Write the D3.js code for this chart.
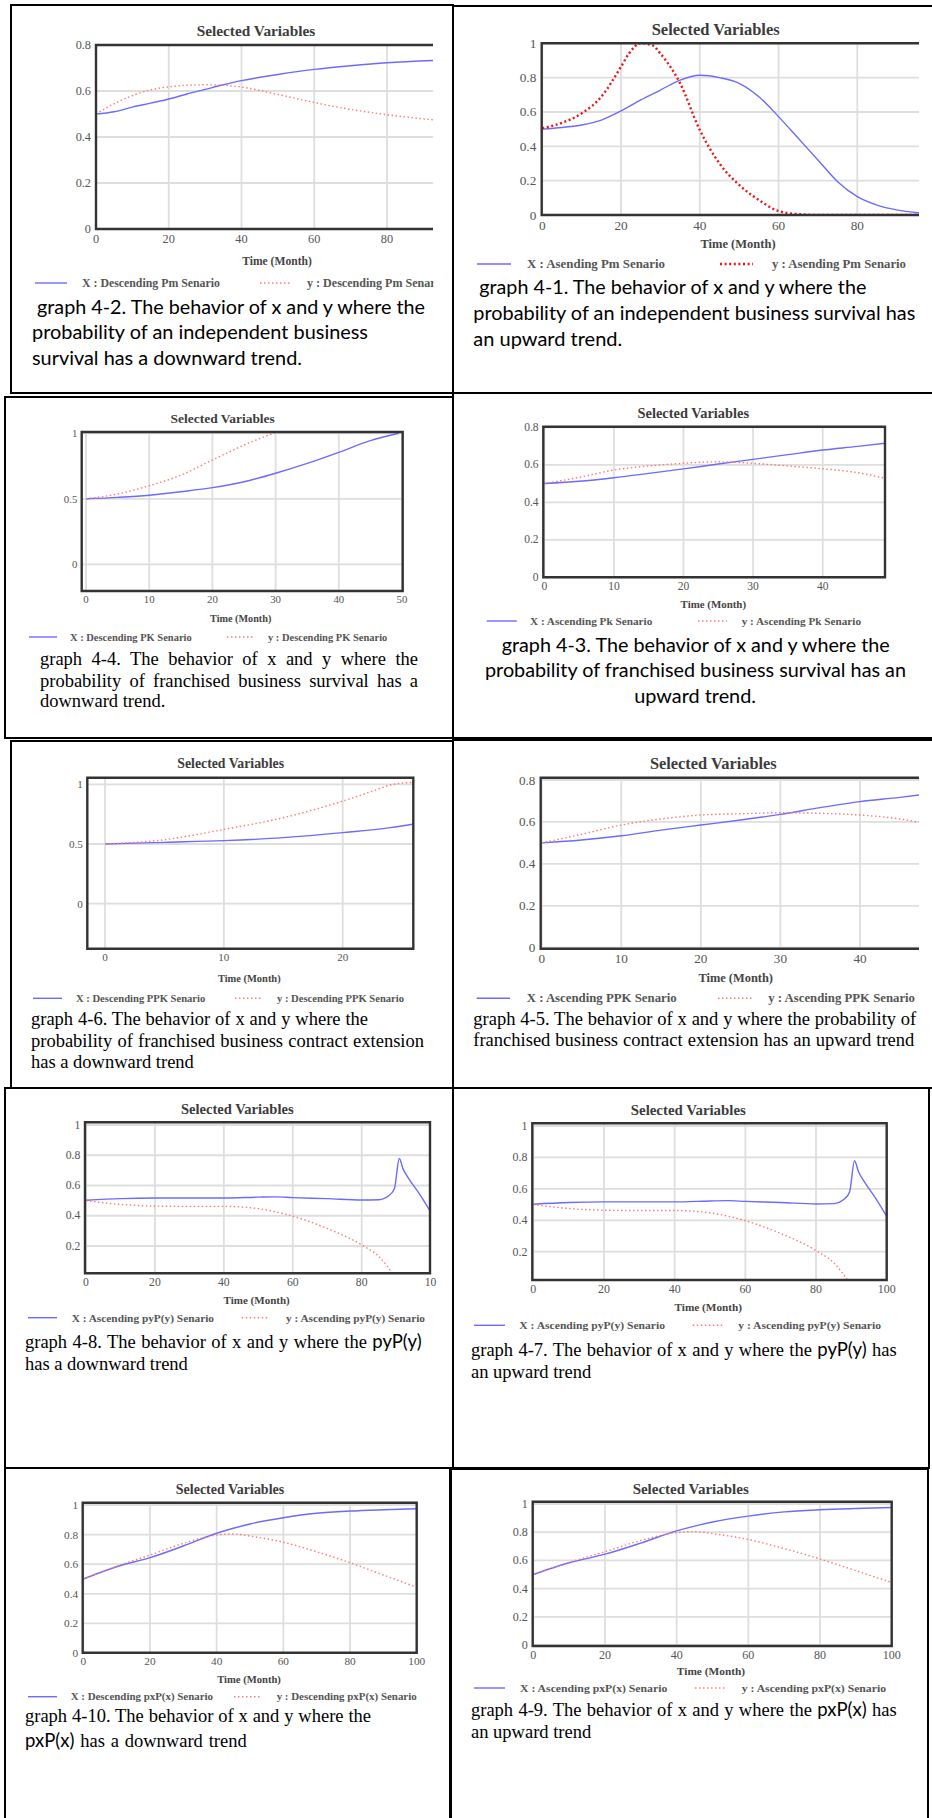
<!DOCTYPE html>
<html>
<head>
<meta charset="utf-8">
<script src="https://cdn.jsdelivr.net/npm/d3@7"></script>
<style>
  body { margin: 0; background: #fff; }
  svg { display: block; }
</style>
</head>
<body>
<svg id="page" width="932" height="1818"></svg>
<script>
// ---- values (Month -> probability) ----
// graph 4-2: descending Pm
const pmDescMonths = [0, 5, 10, 15, 20, 25, 30, 35, 40, 50, 60, 70, 80, 93];
const pmDescX = [0.50, 0.51, 0.53, 0.547, 0.565, 0.587, 0.607, 0.627, 0.645, 0.672, 0.694, 0.71, 0.723, 0.733];
const pmDescY = [0.50, 0.545, 0.58, 0.605, 0.618, 0.625, 0.627, 0.625, 0.617, 0.585, 0.55, 0.52, 0.497, 0.474];

// graph 4-1: ascending Pm
const pmAscMonthsX = [0, 5, 10, 15, 20, 25, 30, 35, 40, 45, 50, 55, 60, 65, 70, 75, 80, 85, 90, 96];
const pmAscX = [0.50, 0.51, 0.524, 0.553, 0.606, 0.67, 0.728, 0.786, 0.814, 0.80, 0.767, 0.689, 0.573, 0.447, 0.32, 0.194, 0.107, 0.058, 0.03, 0.012];
const pmAscMonthsY = [0, 5, 10, 15, 20, 22, 25, 28, 30, 35, 40, 45, 50, 55, 60, 65, 70, 96];
const pmAscY = [0.505, 0.537, 0.592, 0.689, 0.864, 0.94, 1.0, 0.988, 0.94, 0.767, 0.495, 0.30, 0.175, 0.087, 0.023, 0.005, 0, 0];

// graph 4-4: descending PK
const pkDescMonthsX = [0, 5, 10, 15, 20, 25, 30, 35, 40, 45, 49.5];
const pkDescX = [0.50, 0.511, 0.527, 0.554, 0.585, 0.63, 0.695, 0.77, 0.855, 0.944, 1.0];
const pkDescMonthsY = [0, 5, 10, 15, 20, 25, 30];
const pkDescY = [0.50, 0.537, 0.60, 0.68, 0.796, 0.91, 1.007];

// graph 4-3: ascending Pk
const pkAscMonths = [0, 5, 10, 15, 20, 25, 30, 35, 40, 45, 49];
const pkAscX = [0.50, 0.512, 0.531, 0.554, 0.578, 0.604, 0.629, 0.654, 0.679, 0.698, 0.715];
const pkAscY = [0.50, 0.533, 0.572, 0.594, 0.608, 0.616, 0.608, 0.594, 0.579, 0.558, 0.528];

// graph 4-6: descending PPK
const ppkDescMonthsX = [0, 5, 10, 15, 20, 24, 26];
const ppkDescX = [0.50, 0.514, 0.528, 0.553, 0.595, 0.637, 0.668];
const ppkDescMonthsY = [0, 5, 10, 15, 20, 23, 24, 26];
const ppkDescY = [0.50, 0.536, 0.622, 0.72, 0.859, 0.96, 0.994, 1.017];

// graph 4-5: ascending PPK
const ppkAscMonths = [0, 5, 10, 15, 20, 25, 30, 35, 40, 45, 47.5];
const ppkAscX = [0.50, 0.514, 0.534, 0.561, 0.585, 0.609, 0.636, 0.668, 0.697, 0.717, 0.729];
const ppkAscY = [0.50, 0.541, 0.585, 0.614, 0.633, 0.639, 0.644, 0.641, 0.633, 0.614, 0.598];

// graphs 4-8 and 4-7: pyP(y)
const pyMonthsX = [0, 10, 20, 30, 40, 50, 55, 60, 70, 80, 85, 88, 89.5, 90.9, 92, 93.7, 96.7, 100];
const pyX = [0.502, 0.513, 0.517, 0.517, 0.517, 0.523, 0.525, 0.52, 0.513, 0.504, 0.506, 0.535, 0.58, 0.779, 0.71, 0.644, 0.546, 0.425];
const pyMonthsY = [0, 10, 20, 30, 40, 50, 60, 70, 80, 85, 89.5];
const pyY = [0.50, 0.475, 0.464, 0.462, 0.462, 0.447, 0.397, 0.316, 0.207, 0.13, 0.0];

// graphs 4-10 and 4-9: pxP(x)
const pxMonths = [0, 10, 20, 30, 40, 45, 50, 60, 70, 80, 90, 100];
const pxX = [0.50, 0.583, 0.644, 0.723, 0.809, 0.843, 0.872, 0.914, 0.944, 0.959, 0.968, 0.975];
const pxY = [0.50, 0.586, 0.662, 0.741, 0.797, 0.804, 0.79, 0.748, 0.684, 0.61, 0.527, 0.444];

// ---- tick values and labels ----
const xTicks20 = [0, 20, 40, 60, 80];
const xTicks20to100 = [0, 20, 40, 60, 80, 100];
const xLabels20to100 = ['0', '20', '40', '60', '80', '100'];
const xLabels20cut = ['0', '20', '40', '60', '80', '10'];
const xTicks10to50 = [0, 10, 20, 30, 40, 50];
const xTicks10to40 = [0, 10, 20, 30, 40];
const xTicks10to20 = [0, 10, 20];
const yTicks08 = [0, 0.2, 0.4, 0.6, 0.8];
const yTicks1 = [0, 0.2, 0.4, 0.6, 0.8, 1];
const yTicks1no0 = [0.2, 0.4, 0.6, 0.8, 1];
const yTicksHalf = [0, 0.5, 1];

const chartTitle = 'Selected Variables';
const timeLabel = 'Time (Month)';

const BLUE = '#6b6bff';
const PINK = '#ff7b7b';
const RED = '#ee1414';
const SERIF = "'Liberation Serif', 'Times New Roman', serif";
const CALIBRI = "Lato, 'Open Sans', sans-serif";

const zip = (m, v) => m.map((d, i) => [d, v[i]]);

// page cells (table borders around each graph)
const cells = [
  [11, 5, 442, 388], [453, 6, 490, 387],
  [5, 397, 448, 341], [453, 393, 490, 345],
  [11, 741, 442, 347], [453, 740, 490, 348],
  [5, 1088, 448, 380], [453, 1088, 476, 380],
  [5, 1468, 445, 360], [451, 1469, 477, 360]
];

const panels = [
  {
    s: 1.0, xCal: [0, 80], xPx: [96, 387], yCal: [0, 0.8], yPx: [229, 45],
    frame: { l: 96, r: 433, t: 45, b: 229 }, openRight: true, clipRight: 433.5,
    xTicks: xTicks20, yTicks: yTicks08,
    title: [256, 30], xTitle: [277, 261],
    legend: { y: 283, b: [35, 67, 82, 138], r: [260, 292, 307, 138] },
    names: ['X : Descending Pm Senario', 'y : Descending Pm Senario'],
    X: zip(pmDescMonths, pmDescX), Y: zip(pmDescMonths, pmDescY)
  },
  {
    s: 1.08, xCal: [0, 80], xPx: [542.3, 857.3], yCal: [0, 1], yPx: [215, 43.3],
    frame: { l: 541.7, r: 919, t: 43.3, b: 215 }, openRight: true, clipRight: 919.5,
    xTicks: xTicks20, yTicks: yTicks1, strongRed: true,
    title: [715.7, 29], xTitle: [738, 244],
    legend: { y: 264, b: [477, 511, 527, 138], r: [720, 753, 772, 134] },
    names: ['X : Asending Pm Senario', 'y : Asending Pm Senario'],
    X: zip(pmAscMonthsX, pmAscX), Y: zip(pmAscMonthsY, pmAscY)
  },
  {
    s: 0.88, xCal: [0, 50], xPx: [86, 402], yCal: [0, 1], yPx: [564.3, 433.3],
    frame: { l: 81.7, r: 402.7, t: 432, b: 591 },
    xTicks: xTicks10to50, yTicks: yTicksHalf,
    title: [222.7, 418], xTitle: [240.7, 618.7],
    legend: { y: 637, b: [29, 57, 70, 121.7], r: [227, 254, 268, 119.3] },
    names: ['X : Descending PK Senario', 'y : Descending PK Senario'],
    X: zip(pkDescMonthsX, pkDescX), Y: zip(pkDescMonthsY, pkDescY)
  },
  {
    s: 0.94, xCal: [0, 40], xPx: [544.3, 822.7], yCal: [0, 0.8], yPx: [577.3, 427.3],
    frame: { l: 543.3, r: 885, t: 426.7, b: 577.3 },
    xTicks: xTicks10to40, yTicks: yTicks08,
    title: [693.3, 413.3], xTitle: [713.3, 603.7],
    legend: { y: 621, b: [486.7, 516.7, 530, 122.3], r: [698, 727, 741.7, 119.3] },
    names: ['X : Ascending Pk Senario', 'y : Ascending Pk Senario'],
    X: zip(pkAscMonths, pkAscX), Y: zip(pkAscMonths, pkAscY)
  },
  {
    s: 0.9, xCal: [0, 20], xPx: [105, 342.7], yCal: [0, 1], yPx: [903.7, 784.3],
    frame: { l: 87.3, r: 413.3, t: 777.7, b: 948.7 },
    xTicks: xTicks10to20, yTicks: yTicksHalf,
    title: [230.7, 763.3], xTitle: [249.3, 978.3],
    legend: { y: 998.3, b: [33, 62, 76, 129.3], r: [235, 263, 277, 127] },
    names: ['X : Descending PPK Senario', 'y : Descending PPK Senario'],
    X: zip(ppkDescMonthsX, ppkDescX), Y: zip(ppkDescMonthsY, ppkDescY)
  },
  {
    s: 1.07, xCal: [0, 40], xPx: [541.7, 860], yCal: [0, 0.8], yPx: [947.7, 780],
    frame: { l: 540.7, r: 919, t: 777.7, b: 948.7 }, openRight: true, clipRight: 919.5,
    xTicks: xTicks10to40, yTicks: yTicks08,
    title: [713.3, 763.3], xTitle: [735.7, 978.3],
    legend: { y: 998.3, b: [476.7, 510, 526.7, 150], r: [718, 751.7, 768.3, 146.7] },
    names: ['X : Ascending PPK Senario', 'y : Ascending PPK Senario'],
    X: zip(ppkAscMonths, ppkAscX), Y: zip(ppkAscMonths, ppkAscY)
  },
  {
    s: 0.95, xCal: [0, 80], xPx: [86, 361.7], yCal: [0.2, 1], yPx: [1246, 1125],
    frame: { l: 85, r: 430, t: 1122.3, b: 1273.3 },
    xTicks: xTicks20to100, xLabels: xLabels20cut, yTicks: yTicks1no0,
    title: [237.3, 1109.3], xTitle: [256.7, 1300],
    legend: { y: 1317.7, b: [28, 57, 71.7, 142.3], r: [241.7, 269, 286, 139] },
    names: ['X : Ascending pyP(y) Senario', 'y : Ascending pyP(y) Senario'],
    X: zip(pyMonthsX, pyX), Y: zip(pyMonthsY, pyY)
  },
  {
    s: 0.97, xCal: [0, 100], xPx: [533.3, 886.7], yCal: [0.2, 1], yPx: [1251.7, 1126],
    frame: { l: 532.3, r: 886.7, t: 1123.3, b: 1280 },
    xTicks: xTicks20to100, xLabels: xLabels20to100, yTicks: yTicks1no0,
    title: [688.3, 1110], xTitle: [708.3, 1307],
    legend: { y: 1325.3, b: [474, 505, 519.3, 145.7], r: [692.7, 722.7, 738.3, 142.7] },
    names: ['X : Ascending pyP(y) Senario', 'y : Ascending pyP(y) Senario'],
    X: zip(pyMonthsX, pyX), Y: zip(pyMonthsY, pyY)
  },
  {
    s: 0.915, xCal: [0, 100], xPx: [83.3, 416.7], yCal: [0, 1], yPx: [1653, 1505],
    frame: { l: 82.7, r: 416.7, t: 1502.7, b: 1652.7 },
    xTicks: xTicks20to100, xLabels: xLabels20to100, yTicks: yTicks1,
    title: [230, 1489.3], xTitle: [249, 1679],
    legend: { y: 1696.7, b: [28, 57, 70.7, 142.3], r: [234, 261.7, 276.7, 140] },
    names: ['X : Descending pxP(x) Senario', 'y : Descending pxP(x) Senario'],
    X: zip(pxMonths, pxX), Y: zip(pxMonths, pxY)
  },
  {
    s: 0.98, xCal: [0, 100], xPx: [533.3, 891.7], yCal: [0, 1], yPx: [1645, 1504],
    frame: { l: 532.7, r: 891.7, t: 1501.7, b: 1646 },
    xTicks: xTicks20to100, xLabels: xLabels20to100, yTicks: yTicks1,
    title: [690.7, 1489.3], xTitle: [711, 1671],
    legend: { y: 1688, b: [474, 505, 520, 147.3], r: [695, 725, 741.7, 144.3] },
    names: ['X : Ascending pxP(x) Senario', 'y : Ascending pxP(x) Senario'],
    X: zip(pxMonths, pxX), Y: zip(pxMonths, pxY)
  }
];

// captions: segments of [text, font]; 'c' = Calibri-like, 't' = Times
const captions = [
  { x: 37, y: 314, w: 388, segs: [['graph 4-2. The behavior of x and y where the', 'c']] },
  { x: 32, y: 339, w: 336, segs: [['probability of an independent business', 'c']] },
  { x: 32, y: 365, w: 270, segs: [['survival has a downward trend.', 'c']] },
  { x: 479.3, y: 294, w: 387, segs: [['graph 4-1. The behavior of x and y where the', 'c']] },
  { x: 473.3, y: 320, w: 442, segs: [['probability of an independent business survival has', 'c']] },
  { x: 473.3, y: 345.7, w: 149, segs: [['an upward trend.', 'c']] },
  { x: 40, y: 665, w: 378, segs: [['graph 4-4. The behavior of x and y where the', 't']] },
  { x: 40, y: 686.5, w: 378, segs: [['probability of franchised business survival has a', 't']] },
  { x: 40, y: 707.3, segs: [['downward trend.', 't']] },
  { x: 501.7, y: 652.3, w: 388, segs: [['graph 4-3. The behavior of x and y where the', 'c']] },
  { x: 485, y: 677.3, w: 421, segs: [['probability of franchised business survival has an', 'c']] },
  { x: 634.3, y: 703.3, w: 121.7, segs: [['upward trend.', 'c']] },
  { x: 31, y: 1025, w: 337, segs: [['graph 4-6. The behavior of x and y where the', 't']] },
  { x: 31, y: 1046.7, w: 393, segs: [['probability of franchised business contract extension', 't']] },
  { x: 31, y: 1068.3, segs: [['has a downward trend', 't']] },
  { x: 473.3, y: 1025, w: 443, segs: [['graph 4-5. The behavior of x and y where the probability of', 't']] },
  { x: 473.3, y: 1046, w: 441, segs: [['franchised business contract extension has an upward trend', 't']] },
  { x: 25, y: 1347.7, w: 396.7, segs: [['graph 4-8. The behavior of x and y where the ', 't'], ['pyP(y)', 'c']] },
  { x: 25, y: 1370, segs: [['has a downward trend', 't']] },
  { x: 471, y: 1356, w: 425.7, segs: [['graph 4-7. The behavior of x and y where the ', 't'], ['pyP(y)', 'c'], [' has', 't']] },
  { x: 471, y: 1378.3, segs: [['an upward trend', 't']] },
  { x: 25, y: 1721.7, w: 346, segs: [['graph 4-10. The behavior of x and y where the', 't']] },
  { x: 25, y: 1746.7, w: 221.7, segs: [['pxP(x)', 'c'], [' has a downward trend', 't']] },
  { x: 471, y: 1716, w: 425.7, segs: [['graph 4-9. The behavior of x and y where the ', 't'], ['pxP(x)', 'c'], [' has', 't']] },
  { x: 471, y: 1738.3, segs: [['an upward trend', 't']] }
];

const svg = d3.select('#page');
const defs = svg.append('defs');

svg.append('g').selectAll('rect')
  .data(cells)
  .join('rect')
  .attr('x', d => d[0]).attr('y', d => d[1])
  .attr('width', d => d[2]).attr('height', d => d[3])
  .attr('fill', 'none').attr('stroke', '#000').attr('stroke-width', 2);

panels.forEach((p, idx) => {
  const s = p.s;
  const f = p.frame;
  const g = svg.append('g');

  if (p.clipRight) {
    defs.append('clipPath').attr('id', `panelClip${idx}`)
      .append('rect').attr('x', 0).attr('y', 0).attr('width', p.clipRight).attr('height', 1818);
    g.attr('clip-path', `url(#panelClip${idx})`);
  }

  const x = d3.scaleLinear().domain(p.xCal).range(p.xPx);
  const y = d3.scaleLinear().domain(p.yCal).range(p.yPx);

  // grid
  g.append('g').selectAll('line')
    .data(p.xTicks.filter(t => x(t) <= f.r + 0.5))
    .join('line')
    .attr('x1', d => x(d)).attr('x2', d => x(d))
    .attr('y1', f.t).attr('y2', f.b)
    .attr('stroke', '#dedede').attr('stroke-width', 1.8);
  g.append('g').selectAll('line')
    .data(p.yTicks)
    .join('line')
    .attr('x1', f.l).attr('x2', f.r)
    .attr('y1', d => y(d)).attr('y2', d => y(d))
    .attr('stroke', '#dedede').attr('stroke-width', 1.8);

  // series, clipped to the plot frame
  defs.append('clipPath').attr('id', `plotClip${idx}`)
    .append('rect').attr('x', f.l).attr('y', f.t).attr('width', f.r - f.l).attr('height', f.b - f.t);
  const plot = g.append('g').attr('clip-path', `url(#plotClip${idx})`);
  const line = d3.line().x(d => x(d[0])).y(d => y(d[1])).curve(d3.curveMonotoneX);

  plot.append('path').datum(p.X).attr('d', line)
    .attr('fill', 'none').attr('stroke', BLUE).attr('stroke-width', 1.4);
  plot.append('path').datum(p.Y).attr('d', line)
    .attr('fill', 'none')
    .attr('stroke', p.strongRed ? RED : PINK)
    .attr('stroke-width', p.strongRed ? 2.4 : 1.4)
    .attr('stroke-dasharray', p.strongRed ? '2,2.6' : '1.5,2.5');

  // frame
  const framePath = p.openRight
    ? `M${f.r},${f.t}H${f.l}V${f.b}H${f.r}`
    : `M${f.l},${f.t}H${f.r}V${f.b}H${f.l}Z`;
  g.append('path').attr('d', framePath)
    .attr('fill', 'none').attr('stroke', '#333').attr('stroke-width', 2.4);

  // tick labels
  const yLabelFmt = d3.format('~g');
  g.append('g').selectAll('text')
    .data(p.yTicks)
    .join('text')
    .attr('x', f.l - 5 * s).attr('y', d => y(d))
    .attr('text-anchor', 'end').attr('dominant-baseline', 'central')
    .attr('font-family', SERIF).attr('font-size', 12.3 * s).attr('fill', '#555')
    .text(d => yLabelFmt(d));
  g.append('g').selectAll('text')
    .data(p.xTicks)
    .join('text')
    .attr('x', d => x(d)).attr('y', f.b + 9.5 * s)
    .attr('text-anchor', 'middle').attr('dominant-baseline', 'central')
    .attr('font-family', SERIF).attr('font-size', 12.3 * s).attr('fill', '#555')
    .text((d, i) => (p.xLabels ? p.xLabels[i] : String(d)));

  // titles
  g.append('text')
    .attr('x', p.title[0]).attr('y', p.title[1])
    .attr('text-anchor', 'middle').attr('dominant-baseline', 'central')
    .attr('font-family', SERIF).attr('font-weight', 'bold')
    .attr('font-size', 15.3 * s).attr('fill', '#3c3c3c')
    .text(chartTitle);
  g.append('text')
    .attr('x', p.xTitle[0]).attr('y', p.xTitle[1])
    .attr('text-anchor', 'middle').attr('dominant-baseline', 'central')
    .attr('font-family', SERIF).attr('font-weight', 'bold')
    .attr('font-size', 11.6 * s).attr('fill', '#444')
    .text(timeLabel);

  // legend
  const lg = p.legend;
  [[lg.b, BLUE, null, 1.4], [lg.r, p.strongRed ? RED : PINK, p.strongRed ? '2,2.6' : '1.5,2.5', p.strongRed ? 2.4 : 1.4]]
    .forEach(([pos, color, dash, width], k) => {
      g.append('line')
        .attr('x1', pos[0]).attr('x2', pos[1]).attr('y1', lg.y).attr('y2', lg.y)
        .attr('stroke', color).attr('stroke-width', width)
        .attr('stroke-dasharray', dash);
      g.append('text')
        .attr('x', pos[2]).attr('y', lg.y)
        .attr('dominant-baseline', 'central')
        .attr('font-family', SERIF).attr('font-weight', 'bold')
        .attr('font-size', 11.6 * s).attr('fill', '#555')
        .attr('textLength', pos[3]).attr('lengthAdjust', 'spacingAndGlyphs')
        .text(p.names[k]);
    });
});

// captions under each graph
const capG = svg.append('g');
captions.forEach(c => {
  const t = capG.append('text')
    .attr('x', c.x).attr('y', c.y)
    .attr('font-size', 18.5).attr('fill', '#000')
    .style('white-space', 'pre');
  c.segs.forEach(([txt, font]) => {
    t.append('tspan')
      .attr('font-family', font === 'c' ? CALIBRI : SERIF)
      .attr('font-size', font === 'c' ? 18.5 : 18.5)
      .text(txt);
  });
  if (c.w) {
    const allCalibri = c.segs.every(sg => sg[1] === 'c');
    if (allCalibri) {
      t.attr('textLength', c.w).attr('lengthAdjust', 'spacingAndGlyphs');
    } else {
      const natural = t.node().getComputedTextLength();
      const spaces = c.segs.map(sg => sg[0]).join('').trim().split(' ').length - 1;
      if (spaces > 0) t.attr('word-spacing', (c.w - natural) / spaces);
    }
  }
});
</script>
</body>
</html>
